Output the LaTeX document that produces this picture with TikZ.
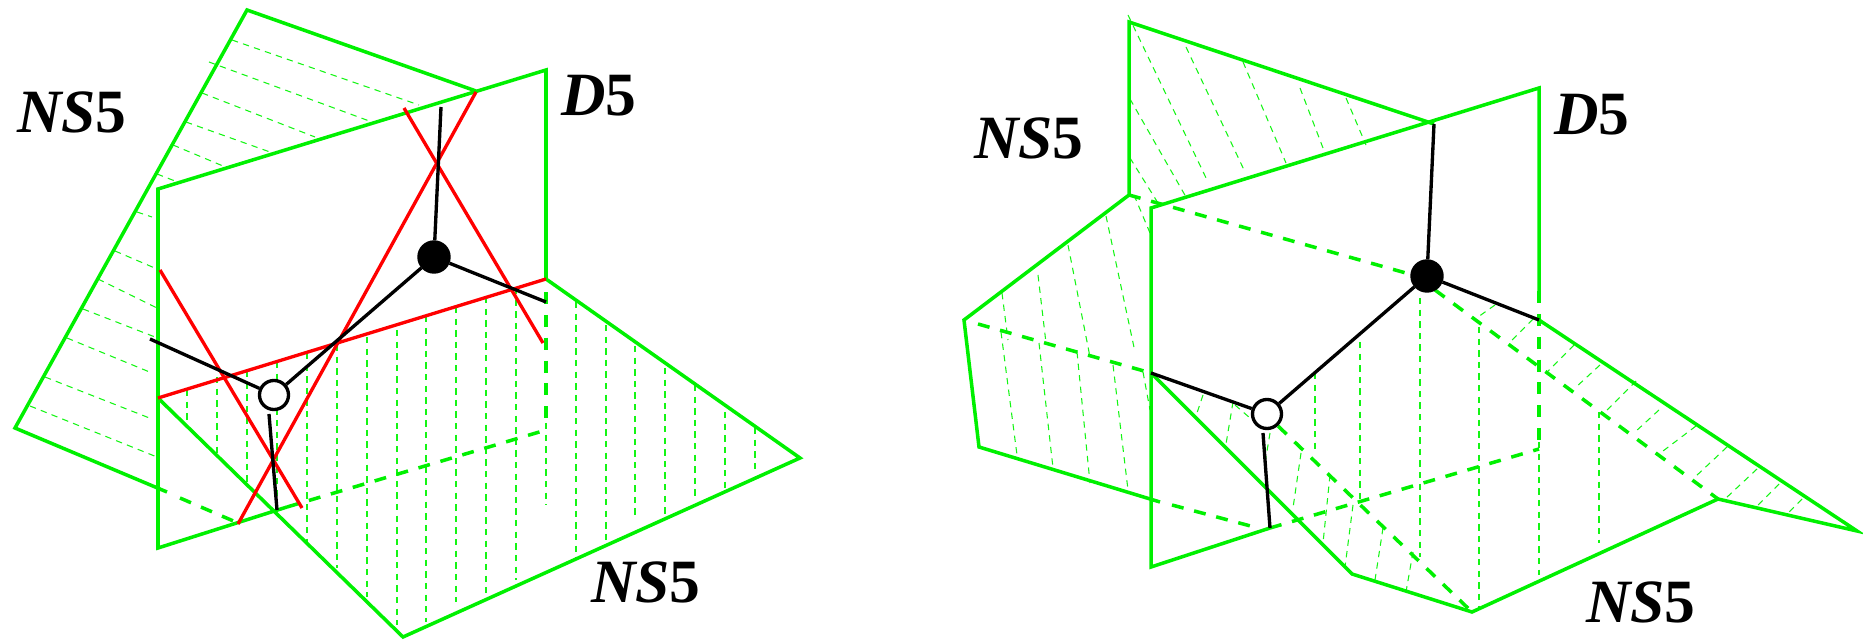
\documentclass[tikz,border=0pt]{standalone}
\usepackage{amsmath}
\usepackage{amssymb}
\usepackage{fontspec}
\setmainfont{Liberation Serif}

\definecolor{branegreen}{RGB}{0,240,0}
\definecolor{hatchgreen}{RGB}{20,245,20}
\tikzset{
	plane/.style = {branegreen, line width=1pt, line join=miter},
	hidden/.style = {branegreen, line width=1pt, dash pattern=on 3.4pt off 3.1pt},
	hatch/.style = {hatchgreen, line width=0.3pt, dash pattern=on 1.8pt off 1.5pt},
	redline/.style = {red, line width=0.95pt},
	web/.style = {black, line width=0.95pt},
	blackdot/.style = {circle, fill=black, draw=black, inner sep=0pt, minimum size=0.32cm},
	ringdot/.style = {circle, fill=white, draw=black, line width=0.95pt, inner sep=0pt, minimum size=0.29cm},
	branelabel/.style = {font=\fontsize{17.5}{19}\selectfont\bfseries\itshape, inner sep=0pt}
}

\begin{document}
\begin{tikzpicture} [x=0.01cm, y=-0.01cm]
		\useasboundingbox (0, 0) rectangle (1863, 640);
		% left picture: hatching of the back plane
		\draw [hatch] (232, 40) -- (419, 105);
		\draw [hatch] (209, 62) -- (372, 122);
		\draw [hatch] (202, 93) -- (315, 137);
		\draw [hatch] (186, 122) -- (270, 152);
		\draw [hatch] (173, 145) -- (223, 166);
		\draw [hatch] (157, 174) -- (175, 181);
		\draw [hatch] (137, 212) -- (152, 217);
		\draw [hatch] (115, 251) -- (157, 269);
		\draw [hatch] (98, 279) -- (157, 308);
		\draw [hatch] (83, 309) -- (155, 337);
		\draw [hatch] (67, 338) -- (152, 373);
		\draw [hatch] (45, 377) -- (152, 419);
		\draw [hatch] (30, 406) -- (157, 457);
		% left picture: hatching of the lower plane
		\draw [hatch] (187, 390) -- (187, 422);
		\draw [hatch] (217, 377) -- (217, 455);
		\draw [hatch] (247, 371) -- (247, 485);
		\draw [hatch] (277, 362) -- (277, 514);
		\draw [hatch] (307, 353) -- (307, 548);
		\draw [hatch] (337, 345) -- (337, 568);
		\draw [hatch] (367, 337) -- (367, 597);
		\draw [hatch] (397, 330) -- (397, 625);
		\draw [hatch] (426, 316) -- (426, 622);
		\draw [hatch] (456, 307) -- (456, 602);
		\draw [hatch] (486, 297) -- (486, 598);
		\draw [hatch] (516, 288) -- (516, 580);
		\draw [hatch] (546, 423) -- (546, 505);
		\draw [hatch] (576, 302) -- (576, 558);
		\draw [hatch] (606, 325) -- (606, 540);
		\draw [hatch] (635, 346) -- (635, 519);
		\draw [hatch] (665, 368) -- (665, 518);
		\draw [hatch] (695, 385) -- (695, 497);
		\draw [hatch] (725, 412) -- (725, 488);
		\draw [hatch] (755, 428) -- (755, 470);
		% left picture: planes
		\draw [plane] (167, 492) -- (15, 428) -- (247, 10) -- (476, 91);
		\draw [hidden] (180, 498) -- (238, 523);
		\draw [plane] (287, 507) -- (158, 548) -- (158, 189) -- (546, 70) -- (546, 279) -- (800, 458) -- (403, 637) -- (158, 398);
		\draw [hidden] (546, 292) -- (546, 423);
		\draw [hidden] (287, 507) -- (546, 430);
		% left picture: red lines
		\draw [redline] (158, 398) -- (546, 279);
		\draw [redline] (404, 108) -- (543, 343);
		\draw [redline] (476, 92) -- (238, 524);
		\draw [redline] (160, 270) -- (302, 508);
		% left picture: web
		\node [blackdot] (dotleft) at (434, 257) {};
		\node [ringdot] (ringleft) at (274, 395) {};
		\coordinate (topleft) at (441, 107);
		\coordinate (eastleft) at (546, 302);
		\coordinate (westleft) at (150, 339);
		\coordinate (stubleft) at (269, 414);
		\coordinate (footleft) at (277, 510);
		\draw [web] (topleft) -- (dotleft);
		\draw [web] (dotleft) -- (eastleft);
		\draw [web] (dotleft) -- (ringleft);
		\draw [web] (ringleft) -- (westleft);
		\draw [web] (stubleft) -- (footleft);
		\node [branelabel] (nsbackleft) at (72, 112) {NS\textup{5}};
		\node [branelabel] (dfiveleft) at (599, 96) {D\textup{5}};
		\node [branelabel] (nsfrontleft) at (646, 582) {NS\textup{5}};
		% right picture: hatching of the upper part
		\draw [hatch] (1128, 15) -- (1208, 182);
		\draw [hatch] (1186, 47) -- (1245, 172);
		\draw [hatch] (1243, 62) -- (1286, 163);
		\draw [hatch] (1300, 88) -- (1323, 148);
		\draw [hatch] (1346, 98) -- (1366, 145);
		\draw [hatch] (1130, 99) -- (1186, 197);
		\draw [hatch] (1130, 158) -- (1158, 203);
		\draw [hatch] (1134, 195) -- (1150, 233);
		% right picture: hatching of the left part
		\draw [hatch] (1106, 216) -- (1135, 352);
		\draw [hatch] (1143, 372) -- (1150, 410);
		\draw [hatch] (1113, 365) -- (1128, 490);
		\draw [hatch] (1068, 245) -- (1090, 357);
		\draw [hatch] (1077, 352) -- (1090, 483);
		\draw [hatch] (1038, 275) -- (1046, 343);
		\draw [hatch] (1039, 343) -- (1053, 468);
		\draw [hatch] (1002, 293) -- (1008, 340);
		\draw [hatch] (1001, 332) -- (1017, 455);
		% right picture: hatching of the middle part
		\draw [hatch] (1203, 395) -- (1197, 413);
		\draw [hatch] (1233, 402) -- (1226, 444);
		\draw [hatch] (1235, 405) -- (1250, 418);
		\draw [hatch] (1270, 433) -- (1265, 463);
		\draw [hatch] (1301, 453) -- (1293, 508);
		\draw [hatch] (1330, 475) -- (1323, 543);
		\draw [hatch] (1353, 505) -- (1345, 567);
		\draw [hatch] (1383, 528) -- (1375, 580);
		\draw [hatch] (1413, 552) -- (1406, 592);
		\draw [hatch] (1315, 373) -- (1315, 452);
		\draw [hatch] (1360, 342) -- (1360, 500);
		\draw [hatch] (1420, 298) -- (1420, 557);
		\draw [hatch] (1479, 327) -- (1479, 609);
		\draw [hatch] (1539, 442) -- (1539, 575);
		\draw [hatch] (1599, 412) -- (1599, 543);
		% right picture: hatching of the right part
		\draw [hatch] (1495, 305) -- (1478, 317);
		\draw [hatch] (1533, 319) -- (1510, 342);
		\draw [hatch] (1574, 345) -- (1547, 372);
		\draw [hatch] (1600, 365) -- (1575, 388);
		\draw [hatch] (1636, 381) -- (1607, 410);
		\draw [hatch] (1659, 410) -- (1635, 432);
		\draw [hatch] (1696, 426) -- (1663, 451);
		\draw [hatch] (1727, 447) -- (1695, 477);
		\draw [hatch] (1757, 469) -- (1725, 499);
		\draw [hatch] (1779, 484) -- (1757, 506);
		\draw [hatch] (1802, 499) -- (1788, 513);
		% right picture: planes
		\draw [plane] (1434, 124) -- (1129, 22) -- (1129, 195) -- (964, 320) -- (979, 447) -- (1160, 502);
		\draw [plane] (1270, 528) -- (1151, 567) -- (1151, 208) -- (1539, 88) -- (1539, 291);
		\draw [plane] (1151, 373) -- (1352, 574) -- (1472, 612) -- (1718, 499) -- (1857, 531) -- (1539, 320);
		\draw [hidden] (1539, 291) -- (1539, 442);
		\draw [hidden] (1129, 195) -- (1413, 275);
		\draw [hidden] (1435, 290) -- (1718, 499);
		\draw [hidden] (978, 324) -- (1151, 373);
		\draw [hidden] (1172, 505) -- (1258, 528);
		\draw [hidden] (1270, 528) -- (1539, 449);
		\draw [hidden] (1278, 426) -- (1472, 612);
		% right picture: web
		\node [blackdot] (dotright) at (1427, 276) {};
		\node [ringdot] (ringright) at (1267, 414) {};
		\coordinate (topright) at (1434, 124);
		\coordinate (eastright) at (1539, 320);
		\coordinate (westright) at (1151, 373);
		\coordinate (stubright) at (1263, 433);
		\coordinate (footright) at (1270, 528);
		\draw [web] (topright) -- (dotright);
		\draw [web] (dotright) -- (eastright);
		\draw [web] (dotright) -- (ringright);
		\draw [web] (ringright) -- (westright);
		\draw [web] (stubright) -- (footright);
		\node [branelabel] (nsbackright) at (1029, 138) {NS\textup{5}};
		\node [branelabel] (dfiveright) at (1592, 115) {D\textup{5}};
		\node [branelabel] (nsfrontright) at (1641, 602) {NS\textup{5}};
\end{tikzpicture}
\end{document}
